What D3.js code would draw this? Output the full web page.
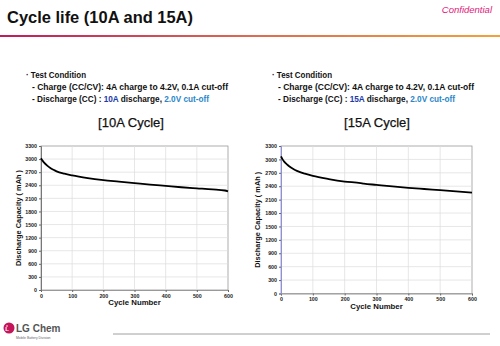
<!DOCTYPE html>
<html>
    <head>
        <script src="https://cdn.jsdelivr.net/npm/d3@7"></script>
        <style>
            body { margin:0; background:#fff; }
            text { font-family:"Liberation Sans", Arial, sans-serif; }
        </style>
    </head>
    <body>
        <svg id="chart" width="500" height="346"></svg>
        <script>
            var cycles10 = [0, 5, 10, 20, 30, 40, 50, 75, 100, 150, 200, 250, 300, 350, 400, 450, 500, 550, 590, 600];
            var capacity10 = [3020, 2965, 2920, 2850, 2795, 2755, 2720, 2665, 2625, 2565, 2520, 2485, 2450, 2415, 2385, 2355, 2330, 2305, 2280, 2260];

            var cycles15 = [0, 5, 10, 20, 30, 40, 50, 75, 100, 150, 200, 250, 260, 300, 350, 400, 450, 500, 550, 600];
            var capacity15 = [3070, 3000, 2950, 2880, 2825, 2780, 2745, 2680, 2630, 2560, 2505, 2470, 2458, 2430, 2395, 2365, 2338, 2312, 2285, 2255];

            var xTicks = [0, 100, 200, 300, 400, 500, 600];
            var yTicks = [0, 300, 600, 900, 1200, 1500, 1800, 2100, 2400, 2700, 3000, 3300];

            var svg = d3.select("#chart");

            // header
            var grad = svg.append("defs").append("linearGradient").attr("id", "hdr");
            grad.append("stop").attr("offset", "0%").attr("stop-color", "#c01a5e");
            grad.append("stop").attr("offset", "50%").attr("stop-color", "#dc6a52");
            grad.append("stop").attr("offset", "100%").attr("stop-color", "#f2a23a");
            svg.append("rect").attr("x", 0).attr("y", 35).attr("width", 500).attr("height", 2).attr("fill", "url(#hdr)");

            svg.append("text").attr("x", 7).attr("y", 23)
                .attr("font-size", 16).attr("font-weight", "bold").attr("fill", "#111")
                .attr("textLength", 186).attr("lengthAdjust", "spacingAndGlyphs")
                .text("Cycle life (10A and 15A)");
            svg.append("text").attr("x", 492).attr("y", 13).attr("text-anchor", "end")
                .attr("font-size", 9.5).attr("font-style", "italic").attr("fill", "#e0207a")
                .text("Confidential");

            function condition(x, amp) {
                var g = svg.append("g").attr("font-size", 8.2).attr("font-weight", "bold").attr("fill", "#111");
                g.append("text").attr("x", x).attr("y", 78)
                    .attr("textLength", 60).attr("lengthAdjust", "spacingAndGlyphs")
                    .text("\u00b7 Test Condition");
                g.append("text").attr("x", x + 6).attr("y", 90)
                    .attr("textLength", 196).attr("lengthAdjust", "spacingAndGlyphs")
                    .text("- Charge (CC/CV): 4A charge to 4.2V, 0.1A cut-off");
                var t = g.append("text").attr("x", x + 6).attr("y", 102)
                    .attr("textLength", 177).attr("lengthAdjust", "spacingAndGlyphs");
                t.append("tspan").text("- Discharge (CC) : ");
                t.append("tspan").attr("fill", "#1c3aa8").text(amp);
                t.append("tspan").text(" discharge, ");
                t.append("tspan").attr("fill", "#2b86c9").text("2.0V cut-off");
            }
            condition(26, "10A");
            condition(272, "15A");

            function panel(o) {
                var x = d3.scaleLinear().domain([0, 600]).range([o.left, o.right]);
                var y = d3.scaleLinear().domain([0, 3300]).range([o.bottom, o.top]);
                var g = svg.append("g");

                g.append("text").attr("x", o.titleX).attr("y", 127).attr("text-anchor", "middle")
                    .attr("font-size", 13).attr("fill", "#111").attr("stroke", "#111").attr("stroke-width", 0.25)
                    .text(o.title);

                g.append("rect").attr("x", o.left).attr("y", o.top)
                    .attr("width", o.right - o.left).attr("height", o.bottom - o.top)
                    .attr("fill", "#fff").attr("stroke", "#999").attr("stroke-width", 0.8);

                // grid
                g.selectAll(".vg").data(xTicks.slice(1, -1)).enter().append("line")
                    .attr("x1", function(d){ return x(d); }).attr("x2", function(d){ return x(d); })
                    .attr("y1", o.top).attr("y2", o.bottom)
                    .attr("stroke", "#dcdcdc").attr("stroke-width", 0.7);
                g.selectAll(".hg").data(yTicks.slice(1, -1)).enter().append("line")
                    .attr("x1", o.left).attr("x2", o.right)
                    .attr("y1", function(d){ return y(d); }).attr("y2", function(d){ return y(d); })
                    .attr("stroke", "#dcdcdc").attr("stroke-width", 0.7);

                var xa = g.append("g").attr("transform", "translate(0," + o.bottom + ")")
                    .call(d3.axisBottom(x).tickValues(xTicks).tickFormat(d3.format("d")).tickSize(2).tickPadding(2));
                var ya = g.append("g").attr("transform", "translate(" + o.left + ",0)")
                    .call(d3.axisLeft(y).tickValues(yTicks).tickFormat(d3.format("d")).tickSize(2).tickPadding(2));
                [xa, ya].forEach(function(a) {
                    a.selectAll("text").attr("font-size", 5.3).attr("font-weight", "bold")
                        .attr("font-family", "Liberation Sans, Arial, sans-serif").attr("fill", "#222");
                    a.selectAll("line").attr("stroke", "#666");
                });
                xa.select(".domain").attr("stroke", "#999");
                ya.select(".domain").attr("stroke", o.yAxisColor).attr("stroke-width", 1);

                var line = d3.line()
                    .x(function(d){ return x(d[0]); })
                    .y(function(d){ return y(d[1]); })
                    .curve(d3.curveMonotoneX);
                g.append("path").datum(d3.zip(o.cycles, o.values))
                    .attr("d", line).attr("fill", "none")
                    .attr("stroke", "#000").attr("stroke-width", 1.8);

                g.append("text").attr("x", (o.left + o.right) / 2).attr("y", o.bottom + 15)
                    .attr("text-anchor", "middle").attr("font-size", 7.8).attr("font-weight", "bold")
                    .attr("fill", "#111").text("Cycle Number");
                g.append("text")
                    .attr("transform", "translate(" + o.labelX + "," + ((o.top + o.bottom) / 2) + ") rotate(-90)")
                    .attr("text-anchor", "middle").attr("font-size", 7.4).attr("font-weight", "bold")
                    .attr("fill", "#111").text("Discharge Capacity ( mAh )");
            }

            panel({ left: 41, right: 228, top: 146, bottom: 290, titleX: 131, labelX: 21,
                    title: "[10A Cycle]", cycles: cycles10, values: capacity10, yAxisColor: "#777" });
            panel({ left: 281, right: 472, top: 146, bottom: 293.5, titleX: 377, labelX: 260,
                    title: "[15A Cycle]", cycles: cycles15, values: capacity15, yAxisColor: "#8e8ee6" });

            // footer
            svg.append("line").attr("x1", 113).attr("x2", 490).attr("y1", 334).attr("y2", 334)
                .attr("stroke", "#888").attr("stroke-width", 0.8);
            var logo = svg.append("g");
            logo.append("circle").attr("cx", 9).attr("cy", 328).attr("r", 5.5).attr("fill", "#c4145a");
            logo.append("text").attr("x", 7).attr("y", 331).attr("text-anchor", "middle")
                .attr("font-size", 6).attr("font-weight", "bold").attr("fill", "#fff").text("L");
            logo.append("circle").attr("cx", 7).attr("cy", 326).attr("r", 0.8).attr("fill", "#fff");
            logo.append("text").attr("x", 16).attr("y", 332).attr("font-size", 10)
                .attr("font-weight", "bold").attr("fill", "#555").text("LG Chem");
            logo.append("text").attr("x", 16).attr("y", 339).attr("font-size", 3.4)
                .attr("fill", "#666").text("Mobile Battery Division");
        </script>
    </body>
</html>
